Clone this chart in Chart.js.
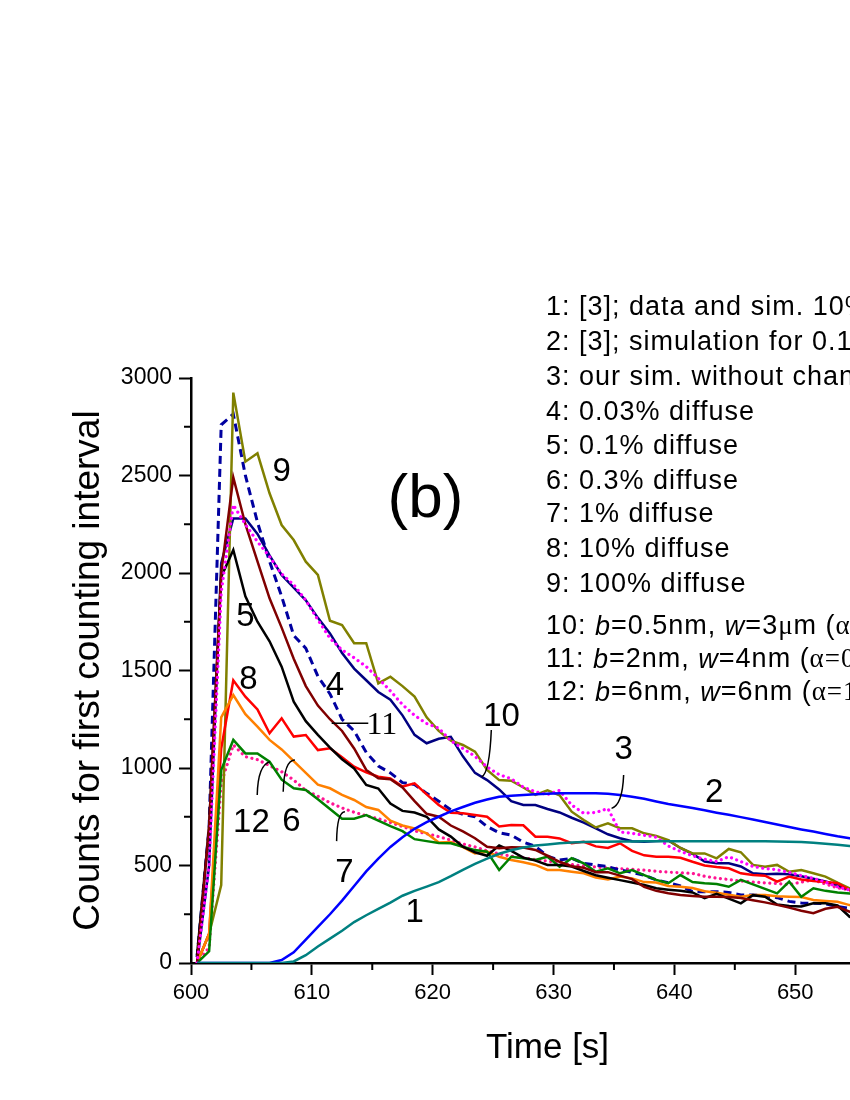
<!DOCTYPE html>
<html>
<head>
<meta charset="utf-8">
<script src="https://cdn.jsdelivr.net/npm/chart.js@4.4.0/dist/chart.umd.min.js"></script>
<style>
  body { margin: 0; background: #fff; overflow: hidden; }
  #wrap { width: 850px; height: 1100px; overflow: hidden; }
  canvas { display: block; }
</style>
</head>
<body>
<div id="wrap"><canvas id="chart" width="905" height="1100"></canvas></div>
<script>
// time bins [s]
const times = [
  600.5, 601.5, 602.5, 603.5, 604.5, 605.5, 606.5, 607.5, 608.5, 609.5,
  610.5, 611.5, 612.5, 613.5, 614.5, 615.5, 616.5, 617.5, 618.5, 619.5,
  620.5, 621.5, 622.5, 623.5, 624.5, 625.5, 626.5, 627.5, 628.5, 629.5,
  630.5, 631.5, 632.5, 633.5, 634.5, 635.5, 636.5, 637.5, 638.5, 639.5,
  640.5, 641.5, 642.5, 643.5, 644.5, 645.5, 646.5, 647.5, 648.5, 649.5,
  650.5, 651.5, 652.5, 653.5, 654.5, 655.5
];

// 1: [3]; data and sim. 10% diffuse
const curve1 = [
  0, 0, 0, 0, 0, 0, 0, 0, 8, 40,
  85, 125, 165, 210, 245, 278, 310, 345, 370, 392,
  415, 445, 478, 508, 535, 560, 578, 592, 602, 608,
  614, 618, 621, 622, 622, 623, 623, 624, 624, 624,
  624, 624, 624, 624, 624, 624, 624, 624, 623, 622,
  620, 617, 612, 606, 600, 595
];
// 2: [3]; simulation for 0.1%
const curve2 = [
  0, 0, 0, 0, 0, 0, 0, 15, 55, 120,
  185, 250, 320, 395, 470, 535, 595, 645, 688, 722,
  750, 778, 800, 822, 838, 852, 858, 862, 866, 868,
  870, 870, 870, 870, 868, 862, 853, 842, 828, 815,
  805, 795, 783, 771, 760, 748, 736, 723, 710, 697,
  685, 674, 662, 650, 640, 630
];
// 3: our sim. without channeling
const curve3 = [
  0, 500, 1900, 2349, 2250, 2160, 2084, 1995, 1940, 1860,
  1760, 1665, 1605, 1565, 1520, 1460, 1395, 1325, 1270, 1228,
  1204, 1140, 1100, 1060, 1005, 966, 945, 902, 878, 864,
  885, 810, 768, 772, 792, 672, 665, 655, 645, 600,
  572, 550, 532, 520, 545, 520, 495, 484, 478, 465,
  448, 434, 415, 390, 374, 360
];
// 4: 0.03% diffuse
const curve4 = [
  0, 700, 2000, 2490, 2250, 2060, 1870, 1720, 1560, 1420,
  1320, 1250, 1190, 1100, 990, 947, 942, 900, 830, 765,
  750, 705, 675, 640, 596, 588, 594, 592, 580, 550,
  519, 496, 488, 466, 466, 448, 430, 390, 370, 358,
  349, 344, 340, 340, 338, 333, 322, 311, 298, 284,
  268, 255, 278, 288, 263, 250
];
// 5: 0.1% diffuse
const curve5 = [
  40, 700, 1980, 2118, 1880, 1750, 1650, 1520, 1340, 1240,
  1170, 1105, 1045, 998, 913, 895, 818, 780, 772, 750,
  685, 648, 596, 568, 550, 603, 575, 540, 525, 503,
  503, 495, 472, 450, 437, 425, 413, 400, 383, 376,
  370, 362, 332, 355, 330, 306, 348, 340, 300, 292,
  290, 306, 306, 295, 237, 220
];
// 6: 0.3% diffuse
const curve6 = [
  0, 60, 990, 1144, 1075, 1075, 1032, 940, 896, 887,
  840, 790, 740, 740, 759, 730, 702, 676, 635, 625,
  616, 614, 596, 579, 571, 477, 545, 537, 528, 545,
  494, 537, 511, 468, 486, 460, 477, 451, 426, 409,
  451, 415, 409, 405, 391, 426, 403, 380, 357, 417,
  340, 383, 370, 362, 357, 350
];
// 7: 1% diffuse
const curve7 = [
  0, 150, 1260, 1374, 1276, 1212, 1144, 1095, 1035, 975,
  915, 896, 862, 836, 800, 785, 730, 705, 690, 665,
  618, 620, 594, 562, 571, 545, 528, 517, 503, 477,
  477, 468, 460, 438, 428, 443, 434, 415, 413, 395,
  391, 385, 368, 360, 350, 340, 349, 349, 342, 340,
  338, 323, 318, 314, 297, 290
];
// 8: 10% diffuse
const curve8 = [
  0, 150, 1100, 1450, 1366, 1300, 1178, 1255, 1161, 1169,
  1092, 1101, 1055, 1007, 978, 955, 947, 905, 921, 865,
  810, 770, 768, 759, 750, 700, 708, 706, 648, 648,
  639, 614, 622, 598, 590, 614, 575, 552, 545, 545,
  540, 519, 500, 492, 486, 460, 451, 448, 417, 443,
  428, 420, 415, 409, 374, 360
];
// 9: 100% diffuse
const curve9 = [
  0, 150, 400, 2925, 2571, 2614, 2409, 2246, 2169, 2058,
  1990, 1755, 1733, 1640, 1640, 1434, 1468, 1420, 1366, 1260,
  1190, 1140, 1118, 1084, 990, 938, 935, 900, 862, 885,
  860, 776, 733, 695, 716, 691, 691, 665, 652, 630,
  590, 562, 562, 537, 585, 568, 503, 494, 503, 468,
  477, 460, 443, 412, 383, 370
];
// 10: b=0.5nm, w=3um
const curve10 = [
  0, 500, 2050, 2280, 2280, 2200, 2090, 1990, 1925, 1860,
  1770, 1690, 1590, 1510, 1450, 1390, 1350, 1270, 1170, 1127,
  1150, 1160, 1060, 975, 938, 890, 830, 810, 810, 790,
  772, 745, 720, 690, 660, 640, 624, 622, 625, 628,
  590, 560, 520, 511, 511, 495, 460, 455, 458, 455,
  445, 432, 418, 400, 374, 360
];
// 11: b=2nm, w=4nm
const curve11 = [
  30, 700, 2760, 2815, 2500, 2260, 2060, 1880, 1680, 1614,
  1470, 1380, 1250, 1190, 1080, 1010, 975, 925, 915, 870,
  830, 785, 762, 750, 700, 668, 656, 620, 598, 548,
  528, 537, 511, 503, 494, 477, 465, 450, 426, 412,
  395, 366, 366, 366, 362, 349, 349, 345, 335, 316,
  308, 306, 304, 290, 280, 270
];
// 12: b=6nm, w=6nm
const curve12 = [
  0, 80, 920, 1118, 1058, 1043, 1012, 981, 938, 885,
  855, 822, 795, 773, 755, 740, 720, 700, 678, 663,
  648, 630, 610, 595, 575, 560, 548, 540, 530, 522,
  515, 505, 498, 492, 488, 484, 480, 476, 470, 466,
  463, 460, 445, 435, 428, 420, 415, 411, 408, 402,
  415, 426, 405, 385, 375, 365
];

const legendLines = [
  '1: [3]; data and sim. 10% diffuse',
  '2: [3]; simulation for 0.1% diffuse',
  '3: our sim. without channeling',
  '4: 0.03% diffuse',
  '5: 0.1% diffuse',
  '6: 0.3% diffuse',
  '7: 1% diffuse',
  '8: 10% diffuse',
  '9: 100% diffuse'
];
// parameter lines: [text, style] pieces
const paramLines = [
  [['10: ', 'n'], ['b', 'i'], ['=0.5nm, ', 'n'], ['w', 'i'], ['=3', 'n'], ['\u03bc', 's'], ['m (', 'n'], ['\u03b1=', 's']],
  [['11: ', 'n'], ['b', 'i'], ['=2nm, ', 'n'], ['w', 'i'], ['=4nm (', 'n'], ['\u03b1=0.', 's']],
  [['12: ', 'n'], ['b', 'i'], ['=6nm, ', 'n'], ['w', 'i'], ['=6nm (', 'n'], ['\u03b1=1.', 's']]
];

const SANS = 'Arial, "Liberation Sans", sans-serif';
const SERIF = '"Times New Roman", "Liberation Serif", serif';

function series(values) {
  return values.map((v, i) => ({ x: times[i], y: v }));
}

function line(label, values, color, extra) {
  return Object.assign({
    label: label,
    data: series(values),
    borderColor: color,
    backgroundColor: color,
    borderWidth: 2.5,
    pointRadius: 0,
    fill: false,
    tension: 0
  }, extra || {});
}

const dotted = { borderDash: [0.01, 5.5], borderCapStyle: 'round', borderWidth: 3.2 };
const dashed = { borderDash: [8, 5], borderWidth: 3 };

const data = {
  datasets: [
    line('1', curve1, '#008080'),
    line('2', curve2, '#0000ff'),
    line('3', curve3, '#ff00ff', dotted),
    line('4', curve4, '#800000'),
    line('5', curve5, '#000000'),
    line('6', curve6, '#008000'),
    line('7', curve7, '#ff8000'),
    line('8', curve8, '#ff0000'),
    line('9', curve9, '#808000'),
    line('10', curve10, '#000080'),
    line('11', curve11, '#0000a0', dashed),
    line('12', curve12, '#ff1493', dotted)
  ]
};

// curve numbers placed in data coordinates
const curveLabels = [
  { text: '9', t: 607.5, v: 2519 },
  { text: '5', t: 604.5, v: 1776 },
  { text: '8', t: 604.75, v: 1451 },
  { text: '4', t: 611.9, v: 1420 },
  { text: '10', t: 625.7, v: 1263 },
  { text: '3', t: 635.8, v: 1092 },
  { text: '2', t: 643.3, v: 870 },
  { text: '12', t: 605.0, v: 716 },
  { text: '6', t: 608.3, v: 724 },
  { text: '7', t: 612.7, v: 463 },
  { text: '1', t: 618.5, v: 255 }
];
// leader arcs: start, control, end
const leaders = [
  [[624.85, 1195], [624.7, 974], [624.05, 955]],
  [[635.8, 964], [635.7, 810], [634.8, 793]],
  [[605.48, 862], [605.54, 1015], [606.53, 1032]],
  [[607.63, 878], [607.7, 1041], [608.6, 1041]],
  [[612.05, 625], [612.08, 774], [612.74, 776]]
];

const textPlugin = {
  id: 'textPlugin',
  afterDraw(chart) {
    const { ctx, scales: { x, y } } = chart;
    ctx.save();
    ctx.fillStyle = '#000';
    ctx.strokeStyle = '#000';

    // minor ticks
    ctx.lineWidth = 2;
    ctx.beginPath();
    for (let t = 605; t < 660; t += 10) {
      const px = x.getPixelForValue(t);
      ctx.moveTo(px, y.bottom);
      ctx.lineTo(px, y.bottom + 7);
    }
    for (let v = 250; v < 3000; v += 500) {
      const py = y.getPixelForValue(v);
      ctx.moveTo(x.left, py);
      ctx.lineTo(x.left - 7, py);
    }
    ctx.stroke();

    // curve numbers
    ctx.textAlign = 'center';
    ctx.textBaseline = 'middle';
    ctx.font = '33px ' + SANS;
    curveLabels.forEach(l => {
      ctx.fillText(l.text, x.getPixelForValue(l.t), y.getPixelForValue(l.v));
    });
    ctx.font = '32px ' + SERIF;
    ctx.fillText('11', x.getPixelForValue(615.8), y.getPixelForValue(1215));
    ctx.font = '62px ' + SANS;
    ctx.fillText('(b)', x.getPixelForValue(619.4), y.getPixelForValue(2374));

    // leaders
    ctx.lineWidth = 1.5;
    ctx.beginPath();
    ctx.moveTo(x.getPixelForValue(611.64), y.getPixelForValue(1229));
    ctx.lineTo(x.getPixelForValue(614.67), y.getPixelForValue(1229));
    leaders.forEach(([a, c, b]) => {
      ctx.moveTo(x.getPixelForValue(a[0]), y.getPixelForValue(a[1]));
      ctx.quadraticCurveTo(x.getPixelForValue(c[0]), y.getPixelForValue(c[1]),
                           x.getPixelForValue(b[0]), y.getPixelForValue(b[1]));
    });
    ctx.stroke();

    // legend text
    ctx.textAlign = 'left';
    ctx.letterSpacing = '1px';
    const lx = 546;
    const rows = [308, 343, 378, 413, 447, 482, 515, 550, 585];
    ctx.font = '27px ' + SANS;
    legendLines.forEach((s, i) => ctx.fillText(s, lx, rows[i]));
    const prows = [627, 660, 693];
    paramLines.forEach((parts, i) => {
      let cx = lx;
      parts.forEach(([s, st]) => {
        if (st === 'i') ctx.font = 'italic 27px ' + SANS;
        else if (st === 's') ctx.font = '27px ' + SERIF;
        else ctx.font = '27px ' + SANS;
        ctx.fillText(s, cx, prows[i]);
        cx += ctx.measureText(s).width;
      });
    });
    ctx.restore();
  }
};

const config = {
  type: 'line',
  data: data,
  options: {
    responsive: false,
    animation: false,
    layout: { padding: { left: 40, top: 378, right: 1, bottom: 20 } },
    plugins: {
      legend: { display: false },
      tooltip: { enabled: false }
    },
    scales: {
      x: {
        type: 'linear',
        min: 600,
        max: 659,
        afterFit: s => { s.height = 117; },
        border: { color: '#000', width: 2.5 },
        grid: { drawOnChartArea: false, tickLength: 12, tickWidth: 2, tickColor: '#000' },
        ticks: { stepSize: 10, includeBounds: false, color: '#000', padding: 5, font: { family: SANS, size: 22 } },
        title: { display: true, text: 'Time [s]', color: '#000', padding: { top: 0, bottom: 11 }, font: { family: SANS, size: 35 } }
      },
      y: {
        min: 0,
        max: 3000,
        afterFit: s => { s.width = 151; },
        border: { color: '#000', width: 2.5 },
        grid: { drawOnChartArea: false, tickLength: 12, tickWidth: 2, tickColor: '#000' },
        ticks: { stepSize: 500, color: '#000', padding: 7, font: { family: SANS, size: 23 }, callback: v => String(v) },
        title: { display: true, text: 'Counts for first counting interval', color: '#000', padding: { top: 27, bottom: 0 }, font: { family: SANS, size: 37 } }
      }
    }
  },
  plugins: [textPlugin]
};

const myChart = new Chart(document.getElementById('chart'), config);
</script>
</body>
</html>
